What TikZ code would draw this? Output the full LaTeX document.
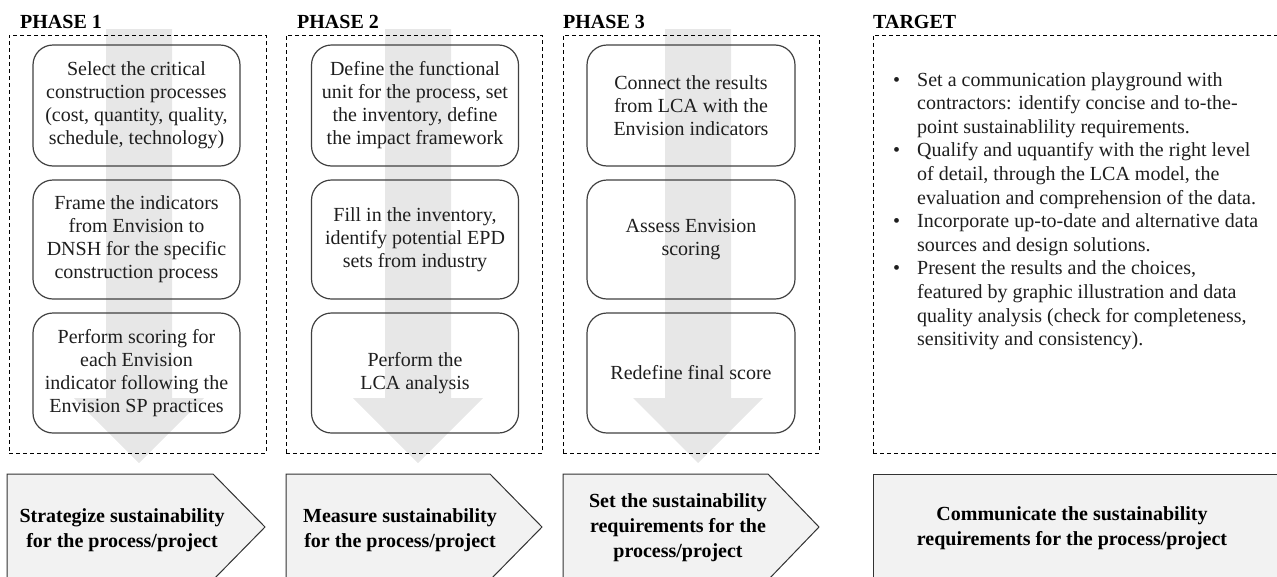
\documentclass[tikz,border=0pt]{standalone}
\usepackage{fontspec}
\setmainfont{Liberation Serif}
\definecolor{arrowgrey}{RGB}{231,231,231}
\definecolor{pentfill}{RGB}{242,242,242}
\definecolor{boxline}{RGB}{64,64,64}
\definecolor{pentline}{RGB}{50,50,50}
\definecolor{txt}{RGB}{30,30,30}
\begin{document}
\begin{tikzpicture}[x=1pt,y=-1pt,
  dashbox/.style={draw=black, dash pattern=on 4pt off 3pt, line width=0.9pt, inner sep=0pt},
  stepbox/.style={draw=boxline, line width=1.2pt, rounded corners=20pt, inner sep=0pt,
     minimum width=207pt, align=center, text=txt, font=\fontsize{20}{23}\selectfont},
  phasetitle/.style={font=\fontsize{20}{24}\selectfont\bfseries, anchor=base west, inner sep=0pt},
  pent/.style={draw=pentline, fill=pentfill, line width=1pt},
  penttext/.style={align=center, font=\fontsize{20}{25}\selectfont\bfseries, inner sep=0pt, text=black},
  grarrow/.pic={\fill[arrowgrey] (-33,0) -- (33,0) -- (33,369) -- (65,369) -- (0,434) -- (-65,369) -- (-33,369) -- cycle;}
]
\useasboundingbox (0,0) rectangle (1277,576);
\clip (0,0) rectangle (1277,576);

% grey flow arrows
\pic at (139,29) {grarrow};
\pic at (418,29) {grarrow};
\pic at (698,29) {grarrow};

% titles
\node[phasetitle] (t1) at (20,28) {PHASE 1};
\node[phasetitle] (t2) at (297,28) {PHASE 2};
\node[phasetitle] (t3) at (563,28) {PHASE 3};
\node[phasetitle] (t4) at (873,28) {TARGET};

% dashed frames
\node[dashbox, minimum width=257pt, minimum height=418pt] (f1) at (137.5,244) {};
\node[dashbox, minimum width=256pt, minimum height=418pt] (f2) at (414,244) {};
\node[dashbox, minimum width=256pt, minimum height=418pt] (f3) at (691,244) {};
\node[dashbox, minimum width=417pt, minimum height=418pt] (f4) at (1081.5,244) {};

% phase 1 steps
\node[stepbox, minimum height=121pt] (a1) at (136.5,105.5) {Select the critical\\construction processes\\(cost, quantity, quality,\\schedule, technology)};
\node[stepbox, minimum height=119pt] (a2) at (136.5,239.5) {Frame the indicators\\from Envision to\\DNSH for the specific\\construction process};
\node[stepbox, minimum height=120pt] (a3) at (136.5,373) {Perform scoring for\\each Envision\\indicator following the\\Envision SP practices};

% phase 2 steps
\node[stepbox, minimum height=121pt] (b1) at (415,105.5) {Define the functional\\unit for the process, set\\the inventory, define\\the impact framework};
\node[stepbox, minimum height=119pt] (b2) at (415,239.5) {Fill in the inventory,\\identify potential EPD\\sets from industry};
\node[stepbox, minimum height=120pt] (b3) at (415,373) {Perform the\\LCA analysis};

% phase 3 steps
\node[stepbox, minimum height=121pt, minimum width=208pt] (c1) at (691,105.5) {Connect the results\\from LCA with the\\Envision indicators};
\node[stepbox, minimum height=119pt, minimum width=208pt] (c2) at (691,239.5) {Assess Envision\\scoring};
\node[stepbox, minimum height=120pt, minimum width=208pt] (c3) at (691,373) {Redefine final score};

% target text
\node[anchor=north west, align=left, inner sep=0pt, text=txt,
      font=\fontsize{20}{23.6}\selectfont] (tt) at (917,72)
  {\llap{\makebox[24pt][l]{\textbullet}}Set a communication playground with\\
   contractors: identify concise and to-the-\\
   point sustainablility requirements.\\
   \llap{\makebox[24pt][l]{\textbullet}}Qualify and uquantify with the right level\\
   of detail, through the LCA model, the\\
   evaluation and comprehension of the data.\\
   \llap{\makebox[24pt][l]{\textbullet}}Incorporate up-to-date and alternative data\\
   sources and design solutions.\\
   \llap{\makebox[24pt][l]{\textbullet}}Present the results and the choices,\\
   featured by graphic illustration and data\\
   quality analysis (check for completeness,\\
   sensitivity and consistency).};

% bottom chevrons
\draw[pent] (7,474) -- (213,474) -- (265,527) -- (213,580) -- (7,580) -- cycle;
\draw[pent] (286,474) -- (490,474) -- (542,527) -- (490,580) -- (286,580) -- cycle;
\draw[pent] (563,474) -- (768,474) -- (819,527) -- (768,580) -- (563,580) -- cycle;
\draw[pent] (873,474) rectangle (1290,580);

\node[penttext] (s1) at (122,530) {Strategize sustainability\\for the process/project};
\node[penttext] (s2) at (400,530) {Measure sustainability\\for the process/project};
\node[penttext] (s3) at (678,528) {Set the sustainability\\requirements for the\\process/project};
\node[penttext] (s4) at (1072,528) {Communicate the sustainability\\requirements for the process/project};
\end{tikzpicture}
\end{document}
